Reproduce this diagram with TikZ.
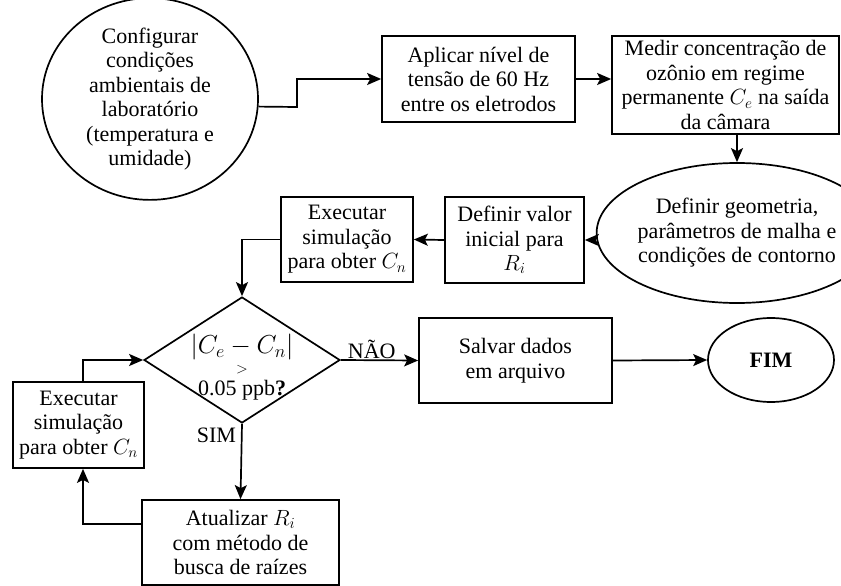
\RequirePackage{fix-cm}
\documentclass[tikz,border=0pt]{standalone}
\usepackage{fontspec}
\setmainfont{Liberation Serif}
\usetikzlibrary{shapes.geometric,arrows.meta,calc}
\begin{document}
\begin{tikzpicture}[x=1pt,y=-1pt,
  line width=1.7pt,
  box/.style={draw, rectangle, inner sep=0pt, align=center},
  ell/.style={draw, ellipse, inner sep=0pt, align=center},
  dia/.style={draw, diamond, inner sep=0pt},
  txt/.style={inner sep=0pt},
  arr/.style={-{Stealth[length=14pt,width=12pt,inset=3pt]}},
  lbl/.style={inner sep=1pt},
  font=\fontsize{22}{24.5}\selectfont]
\useasboundingbox (0,0) rectangle (841,586);
\clip (0,0) rectangle (841,586);

\node[ell, minimum width=216, minimum height=188] (e1) at (150,99)
  {Configurar\\condições\\ambientais de\\laboratório\\(temperatura e\\umidade)};
\node[box, minimum width=193, minimum height=86] (b1) at (478.5,79)
  {Aplicar nível de\\tensão de 60 Hz\\entre os eletrodos};
\node[box, minimum width=227, minimum height=98] (b2) at (725.5,85)
  {Medir concentração de\\ozônio em regime\\permanente $C_e$ na saída\\da câmara};
\node[ell, minimum width=254, minimum height=140] (e2) at (737,233)
  {Definir geometria,\\parâmetros de malha e\\condições de contorno};
\node[box, minimum width=139, minimum height=86] (b3) at (514.5,240)
  {Definir valor\\inicial para\\$R_i$};
\node[box, minimum width=132, minimum height=85] (b4) at (347,239.5)
  {Executar\\simulação\\para obter $C_n$};
\node[dia, minimum width=196, minimum height=126] (d) at (242,360) {};
\node[txt, font=\fontsize{26}{26}\selectfont] (dt1) at (242,347) {$|C_e-C_n|$};
\node[txt] (dt2) at (242,369.5) {$\scriptstyle >$};
\node[txt] (dt3) at (242,390) {0.05 ppb\textbf{?}};
\node[box, minimum width=193, minimum height=85] (b5) at (515.5,360.5)
  {Salvar dados\\em arquivo};
\node[ell, minimum width=126, minimum height=84] (fim) at (771,360)
  {\textbf{FIM}};
\node[box, minimum width=197, minimum height=85] (b6) at (240.5,542.5)
  {Atualizar $R_i$\\com método de\\busca de raízes};
\node[box, minimum width=131, minimum height=86] (b7) at (78.5,425)
  {Executar\\simulação\\para obter $C_n$};

\coordinate (j1) at (297,107);
\draw[arr] (e1.-4) -- (j1) |- (b1.west);
\draw[arr] (b1.east) -- (b1.east -| b2.west);
\draw[arr] (e2.north |- b2.south) -- (e2.north);
\draw[arr] (e2.west |- b3.east) -- (b3.east);
\draw[arr] (b3.west) -- (b4.east);
\draw[arr] (b4.west) -| (d.north);
\draw[arr] (d.east) -- node[lbl, above, pos=0.4] {NÃO} (b5.west);
\draw[arr] (b5.east) -- (fim.west);
\draw[arr] (d.south) -- node[lbl, left, pos=0.15, xshift=-4pt] {SIM} (b6.north);
\draw[arr] ($(b6.north west)+(0,25)$) -| ($(b7.south)+(4.5,0)$);
\draw[arr] ($(b7.north)+(4.5,0)$) |- (d.west);
\end{tikzpicture}
\end{document}
